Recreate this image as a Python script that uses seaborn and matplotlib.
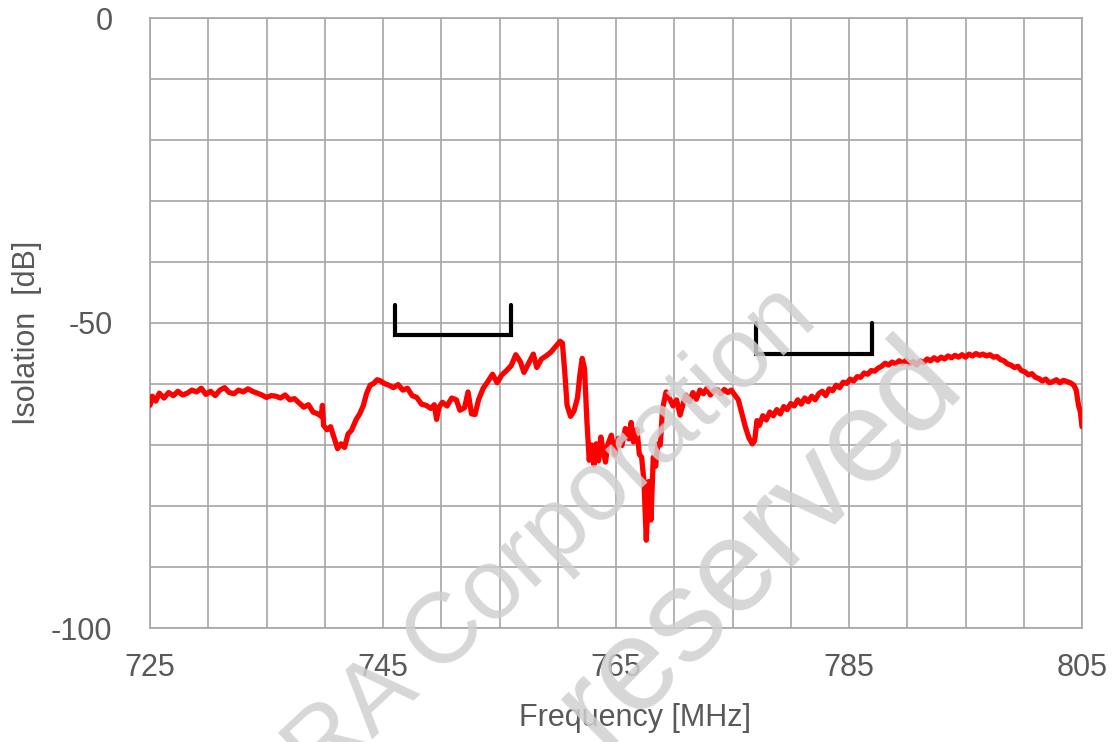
import matplotlib
matplotlib.use("Agg")
import matplotlib.pyplot as plt
import seaborn as sns
import numpy as np
import pandas as pd

# ---- data ----
freq_mhz = [
    725.0, 725.2, 725.5, 725.8, 726.2, 726.6, 727.0, 727.4, 727.8, 728.2,
    728.6, 729.0, 729.4, 729.8, 730.2, 730.6, 731.0, 731.4, 731.8, 732.2,
    732.6, 733.0, 733.4, 733.8, 734.2, 734.6, 735.0, 735.4, 735.8, 736.2,
    736.6, 737.0, 737.4, 737.8, 738.2, 738.6, 739.0, 739.4, 739.7, 739.8,
    739.9, 740.2, 740.5, 740.8, 741.1, 741.4, 741.7, 742.0, 742.3, 742.7,
    743.0, 743.3, 743.6, 743.9, 744.2, 744.5, 744.8, 745.1, 745.5, 745.9,
    746.3, 746.7, 747.1, 747.5, 747.9, 748.3, 748.7, 749.1, 749.4, 749.6,
    749.8, 750.1, 750.5, 750.9, 751.3, 751.6, 752.0, 752.3, 752.6, 752.9,
    753.2, 753.6, 754.0, 754.4, 754.8, 755.2, 755.6, 756.0, 756.4, 756.8,
    757.1, 757.5, 757.9, 758.2, 758.6, 759.0, 759.4, 759.8, 760.2, 760.4,
    760.6, 760.8, 761.1, 761.4, 761.7, 761.9, 762.1, 762.3, 762.5, 762.7,
    762.9, 763.1, 763.3, 763.5, 763.7, 763.9, 764.1, 764.3, 764.6, 764.9,
    765.2, 765.5, 765.8, 766.1, 766.3, 766.5, 766.8, 767.0, 767.2, 767.4,
    767.6, 767.8, 768.0, 768.2, 768.4, 768.6, 768.8, 769.0, 769.3, 769.6,
    769.9, 770.2, 770.5, 770.8, 771.0, 771.3, 771.6, 771.9, 772.2, 772.5,
    772.8, 773.1, 773.4, 773.7, 774.0, 774.3, 774.6, 774.9, 775.2, 775.5,
    775.8, 776.1, 776.4, 776.7, 776.9, 777.1, 777.3, 777.6, 777.9, 778.2,
    778.5, 778.8, 779.1, 779.4, 779.7, 780.0, 780.3, 780.6, 780.9, 781.2,
    781.5, 781.8, 782.1, 782.4, 782.7, 783.0, 783.3, 783.6, 783.9, 784.2,
    784.5, 784.8, 785.1, 785.4, 785.7, 786.0, 786.3, 786.6, 786.9, 787.2,
    787.5, 787.8, 788.1, 788.4, 788.7, 789.0, 789.3, 789.6, 789.9, 790.2,
    790.5, 790.8, 791.1, 791.4, 791.7, 792.0, 792.3, 792.6, 792.9, 793.2,
    793.5, 793.8, 794.1, 794.4, 794.7, 795.0, 795.3, 795.6, 795.9, 796.2,
    796.5, 796.8, 797.1, 797.4, 797.7, 798.0, 798.3, 798.6, 798.9, 799.2,
    799.5, 799.8, 800.1, 800.4, 800.7, 801.0, 801.3, 801.6, 801.9, 802.2,
    802.5, 802.8, 803.1, 803.4, 803.7, 804.0, 804.3, 804.5, 804.7, 804.85,
    805.0,
]
isolation_db = [
    -63.5, -62.0, -62.8, -61.5, -62.3, -61.4, -61.9, -61.2, -61.8, -61.5,
    -61.0, -61.3, -60.7, -61.7, -61.2, -61.9, -61.0, -60.6, -61.4, -61.6,
    -61.0, -61.3, -60.8, -61.2, -61.5, -61.8, -62.2, -61.9, -62.0, -62.3,
    -61.8, -62.6, -62.4, -63.1, -63.8, -63.4, -64.6, -64.9, -65.3, -63.5,
    -66.8, -67.5, -67.0, -68.8, -70.6, -69.8, -70.4, -68.2, -67.6, -65.8,
    -64.9, -63.6, -61.5, -60.2, -59.9, -59.3, -59.5, -59.9, -60.2, -60.6,
    -60.1, -61.0, -60.7, -61.9, -62.2, -63.3, -63.5, -64.0, -63.4, -65.8,
    -63.8, -63.0, -63.6, -62.3, -62.6, -64.3, -63.9, -61.3, -64.9, -65.0,
    -62.6, -60.7, -59.6, -58.4, -59.8, -58.5, -57.8, -57.0, -55.2, -56.4,
    -58.1, -56.6, -55.1, -57.3, -55.9, -55.4, -54.8, -53.9, -53.0, -53.3,
    -58.0, -63.5, -65.3, -64.4, -62.2, -58.5, -55.8, -57.5, -66.0, -72.5,
    -70.0, -73.3, -69.8, -72.6, -68.7, -71.0, -72.8, -69.9, -68.4, -71.6,
    -68.9, -70.1, -67.3, -69.0, -66.3, -69.5, -67.4, -71.5, -72.0, -76.0,
    -85.6, -76.0, -82.3, -72.0, -73.5, -69.8, -70.0, -64.0, -61.3, -62.4,
    -63.6, -62.6, -65.1, -63.0, -61.8, -62.9, -61.4, -62.5, -61.0, -61.6,
    -60.7, -61.8, -61.1, -60.9, -61.6, -60.9, -61.4, -61.0, -61.8, -62.6,
    -64.8, -67.0, -68.8, -69.8, -69.3, -66.0, -66.8, -65.2, -65.9, -64.6,
    -65.2, -64.2, -64.9, -63.7, -64.2, -63.2, -63.6, -62.6, -63.3, -62.3,
    -62.9, -62.0, -62.6, -61.6, -61.2, -61.9, -60.8, -61.1, -60.2, -60.6,
    -59.7, -59.9, -59.2, -59.5, -58.8, -58.9, -58.2, -58.4, -57.8, -57.9,
    -57.4, -57.1, -56.6, -56.9, -56.4, -56.7, -56.2, -56.6, -56.1, -56.7,
    -56.3, -56.9, -56.2, -56.5, -55.9, -56.2, -55.7, -56.1, -55.6, -55.9,
    -55.4, -55.7, -55.3, -55.6, -55.2, -55.6, -55.1, -55.4, -55.0, -55.3,
    -55.1, -55.4, -55.2, -55.6, -55.5, -56.0, -56.2, -56.7, -56.9, -57.3,
    -57.1, -57.8, -58.0, -58.5, -58.3, -58.9, -59.1, -59.5, -59.2, -59.8,
    -59.6, -59.3, -59.8, -59.4, -59.6, -59.8, -60.2, -61.0, -63.5, -64.5,
    -67.0,
]

# band brackets (Tx band 746-756 MHz, Rx band 777-787 MHz)
bracket_tx_x = [746, 746, 756, 756]
bracket_tx_y = [-47, -52, -52, -47]
bracket_rx_x = [777, 777, 787, 787]
bracket_rx_y = [-50, -55, -55, -50]

x_tick_labels = [725, 745, 765, 785, 805]
y_tick_labels = [0, -50, -100]

df = pd.DataFrame({"Frequency": freq_mhz, "Isolation": isolation_db})

# ---- style ----
sns.set_theme(style="white")
plt.rcParams["font.family"] = ["Liberation Sans", "DejaVu Sans"]

text_color = "#595959"
grid_color = "#a6a6a6"

fig = plt.figure(figsize=(11.18, 7.42), dpi=100)
ax = fig.add_axes([150 / 1118, 1 - 628 / 742, 932 / 1118, 610 / 742])

sns.lineplot(data=df, x="Frequency", y="Isolation", ax=ax, color="#ff0000",
             linewidth=3.8, estimator=None, sort=False, zorder=4)

ax.plot(bracket_tx_x, bracket_tx_y, color="black", linewidth=3.0,
        solid_joinstyle="miter", zorder=5)
ax.plot(bracket_rx_x, bracket_rx_y, color="black", linewidth=3.0,
        solid_joinstyle="miter", zorder=5)

ax.set_xlim(725, 805)
ax.set_ylim(-100, 0)

xt = np.arange(725, 806, 5)
ax.set_xticks(xt)
ax.set_xticklabels([str(v) if v in x_tick_labels else "" for v in xt])
yt = np.arange(-100, 1, 10)
ax.set_yticks(yt)
ax.set_yticklabels([str(v) if v in y_tick_labels else "" for v in yt])

ax.grid(True, color=grid_color, linewidth=1.2)
ax.set_axisbelow(True)
for s in ax.spines.values():
    s.set_color(grid_color)
    s.set_linewidth(1.2)

ax.tick_params(axis="x", length=0, pad=18, labelsize=22, labelcolor=text_color)
ax.tick_params(axis="y", length=0, pad=27, labelsize=22, labelcolor=text_color)

ax.set_xlabel("Frequency [MHz]", fontsize=22, color=text_color)
ax.set_ylabel("Isolation  [dB]", fontsize=22, color=text_color)
ax.xaxis.set_label_coords((635 - 150) / 932, -(703 - 628) / 610)
ax.yaxis.set_label_coords((42 - 150) / 932, (628 - 333) / 610)

# watermark
wm_kw = dict(color="#d0d0d0", alpha=0.85, rotation_mode="anchor",
             ha="right", va="baseline", zorder=3)
fig.text(820 / 1118, 1 - 322 / 742, "©KYOCERA Corporation",
         fontsize=72, rotation=43, **wm_kw)
fig.text(968 / 1118, 1 - 392 / 742, "All rights reserved",
         fontsize=95, rotation=45, **wm_kw)

fig.savefig("out.png", dpi=100)
